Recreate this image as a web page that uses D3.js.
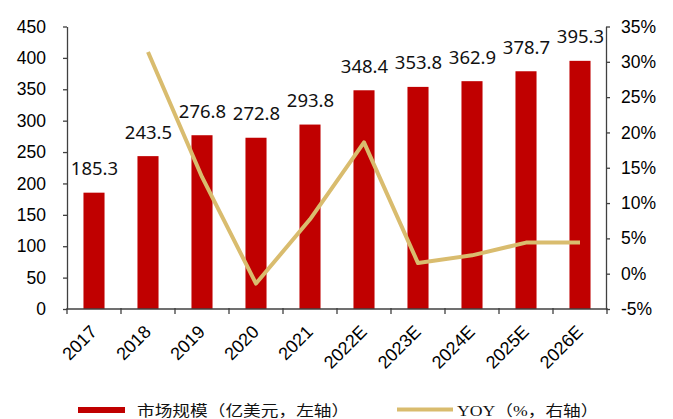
<!DOCTYPE html>
<html>
<head>
<meta charset="utf-8">
<script src="https://cdn.jsdelivr.net/npm/d3@7"></script>
<style>
  body { margin: 0; background: #fff; }
  svg { display: block; }
</style>
</head>
<body>
<svg id="chart" width="673" height="419"></svg>
<script>
// chart data
const years = ['2017', '2018', '2019', '2020', '2021', '2022E', '2023E', '2024E', '2025E', '2026E'];
const marketSize = [185.3, 243.5, 276.8, 272.8, 293.8, 348.4, 353.8, 362.9, 378.7, 395.3];
const yoy = [null, 31.4, 13.7, -1.4, 7.7, 18.6, 1.5, 2.6, 4.4, 4.4];
const leftTicks = [0, 50, 100, 150, 200, 250, 300, 350, 400, 450];
const rightTicks = [-5, 0, 5, 10, 15, 20, 25, 30, 35];
const legendNames = ['市场规模（亿美元，左轴）', 'YOY（%，右轴）'];

const barColor = '#C00000';
const lineColor = '#D9BC6E';
const axisColor = '#404040';

const plot = { left: 67, right: 607, top: 26.5, bottom: 309 };

const svg = d3.select('#chart');

const xSlot = d3.scaleBand()
  .domain(years)
  .range([plot.left, plot.right]);

const xBar = d3.scaleBand()
  .domain(years)
  .range([plot.left, plot.right])
  .paddingInner(0.61)
  .paddingOuter(0.305);

const yLeft = d3.scaleLinear()
  .domain([0, 450])
  .range([plot.bottom, plot.top]);

const yRight = d3.scaleLinear()
  .domain([-5, 35])
  .range([plot.bottom, plot.top]);

// bars
svg.append('g')
  .selectAll('rect')
  .data(years)
  .enter().append('rect')
    .attr('x', d => xBar(d))
    .attr('y', (d, i) => yLeft(marketSize[i]))
    .attr('width', xBar.bandwidth())
    .attr('height', (d, i) => yLeft(0) - yLeft(marketSize[i]))
    .attr('fill', barColor);

// value labels
svg.append('g')
  .selectAll('text')
  .data(years)
  .enter().append('text')
    .attr('x', d => xBar(d) + xBar.bandwidth() / 2 + 0.5)
    .attr('y', (d, i) => yLeft(marketSize[i]) - 17.5)
    .attr('text-anchor', 'middle')
    .style('font-family', '"Noto Sans", "Open Sans", sans-serif')
    .style('font-size', '18.5px')
    .attr('fill', '#111')
    .text((d, i) => marketSize[i].toFixed(1));

// yoy line
const line = d3.line()
  .defined(d => d.v !== null)
  .x(d => xSlot(d.year) + xSlot.bandwidth() / 2)
  .y(d => yRight(d.v));

svg.append('path')
  .datum(years.map((year, i) => ({ year, v: yoy[i] })))
  .attr('d', line)
  .attr('fill', 'none')
  .attr('stroke', lineColor)
  .attr('stroke-width', 4)
  .attr('stroke-linejoin', 'round');

// left axis
const leftAxis = svg.append('g')
  .attr('transform', `translate(${plot.left},0)`)
  .call(d3.axisLeft(yLeft).tickValues(leftTicks).tickSize(4).tickPadding(17).tickSizeOuter(0));

// right axis
const rightAxis = svg.append('g')
  .attr('transform', `translate(${plot.right - 1},0)`)
  .call(d3.axisRight(yRight).tickValues(rightTicks).tickSize(4).tickPadding(11).tickSizeOuter(0)
    .tickFormat(d => d + '%'));

[leftAxis, rightAxis].forEach(g => {
  g.select('.domain').attr('stroke', axisColor).attr('stroke-width', 1.3);
  g.selectAll('.tick line').attr('stroke', axisColor).attr('stroke-width', 1.3);
  g.selectAll('.tick text')
    .attr('fill', '#000')
    .style('font-family', '"Liberation Sans", Arial, sans-serif')
    .style('font-size', '17.5px');
});

// bottom axis: line, boundary ticks, rotated labels
const bottom = svg.append('g');

bottom.append('line')
  .attr('x1', plot.left).attr('x2', plot.right)
  .attr('y1', plot.bottom).attr('y2', plot.bottom)
  .attr('stroke', axisColor).attr('stroke-width', 1.3);

bottom.selectAll('.xtick')
  .data(years.concat(['end']))
  .enter().append('line')
    .attr('class', 'xtick')
    .attr('x1', d => d === 'end' ? plot.right : xSlot(d))
    .attr('x2', d => d === 'end' ? plot.right : xSlot(d))
    .attr('y1', plot.bottom - 1)
    .attr('y2', plot.bottom + 5)
    .attr('stroke', axisColor).attr('stroke-width', 1.3);

bottom.selectAll('.xlabel')
  .data(years)
  .enter().append('text')
    .attr('class', 'xlabel')
    .attr('transform', d => `translate(${xSlot(d) + xSlot.bandwidth() / 2 + 4},${plot.bottom + 24}) rotate(-45)`)
    .attr('text-anchor', 'end')
    .style('font-family', '"Liberation Sans", Arial, sans-serif')
    .style('font-size', '18px')
    .attr('fill', '#000')
    .text(d => d);

// legend
const legend = svg.append('g');

legend.append('rect')
  .attr('x', 78).attr('y', 407)
  .attr('width', 47).attr('height', 6)
  .attr('fill', barColor);

legend.append('text')
  .attr('transform', 'translate(137,415.5) scale(1.18,1)')
  .style('font-family', '"Liberation Serif", "Noto Sans CJK SC", serif')
  .style('font-size', '15px')
  .attr('fill', '#111')
  .text(legendNames[0]);

legend.append('line')
  .attr('x1', 397).attr('x2', 453)
  .attr('y1', 409.5).attr('y2', 409.5)
  .attr('stroke', lineColor)
  .attr('stroke-width', 4);

legend.append('text')
  .attr('transform', 'translate(457,415.5) scale(1.18,1)')
  .style('font-family', '"Liberation Serif", "Noto Sans CJK SC", serif')
  .style('font-size', '15px')
  .attr('fill', '#111')
  .text(legendNames[1]);
</script>
</body>
</html>
